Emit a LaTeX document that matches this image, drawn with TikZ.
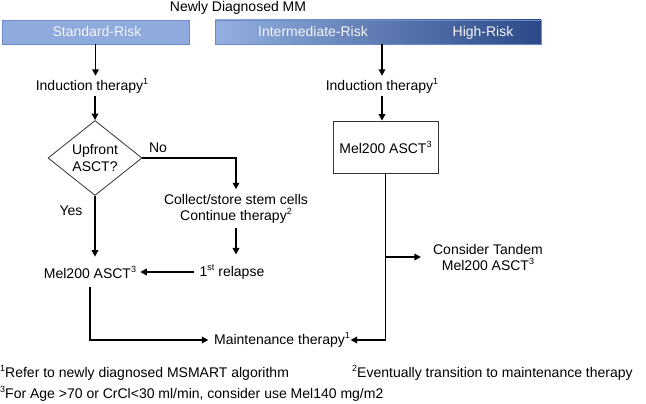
\documentclass[tikz,border=0pt]{standalone}
\usepackage{fontspec}
\setmainfont{Liberation Sans}
\usetikzlibrary{shapes.geometric,arrows.meta,calc}
\definecolor{stdfill}{HTML}{8FAADC}
\definecolor{boxline}{HTML}{6A8BC6}
\definecolor{gradL}{HTML}{94AFDF}
\definecolor{gradM}{HTML}{4E77C6}
\definecolor{gradR}{HTML}{2C4887}
\definecolor{wtext}{HTML}{F4F6FB}
\newcommand\myup[1]{\raisebox{0.42em}{\fontsize{9}{10}\selectfont #1}}
\begin{document}
\begin{tikzpicture}[x=1pt,y=-1pt,
  every node/.style={font=\fontsize{14}{16}\selectfont, inner sep=1pt},
  arr/.style={line width=1.8pt, -{Triangle[length=6.5pt,width=6.5pt]}},
  riskbox/.style={draw=boxline, line width=0.8pt, minimum height=24pt, inner sep=0pt},
  wlabel/.style={text=wtext, text height=10pt, text depth=3pt},
  plainbox/.style={draw=black!80, line width=0.8pt}
]
\useasboundingbox (0,0) rectangle (646,404);

% header
\node (title) at (238,8) {Newly Diagnosed MM};
\node[riskbox, fill=stdfill, minimum width=187pt] (std) at (95.5,32) {};
\node[wlabel] (stdt) at (97,33.5) {Standard-Risk};
\node[riskbox, left color=gradL, middle color=gradM, right color=gradR, minimum width=326pt] (ih) at (378,32) {};
\node[wlabel] (inter) at (313,33.5) {Intermediate-Risk};
\node[wlabel] (high) at (483,33.5) {High-Risk};

% left column
\node[inner ysep=2.5pt] (ind1) at (92,86) {Induction therapy\myup{1}};
\draw[arr] (std.south) -- (std.south |- ind1.north);
\node[plainbox, diamond, aspect=1.25, minimum width=94pt, minimum height=75pt, inner sep=0pt, align=center, font=\fontsize{14}{17}\selectfont] (dia) at (95,158) {Upfront\\ASCT?};
\draw[arr] (dia.north |- ind1.south) -- (dia.north);

\node[align=center, inner ysep=4.5pt] (coll) at (236,208.5) {Collect/store stem cells\\Continue therapy\myup{2}};
\draw[arr] (dia.east) -| (coll.north);
\node (no) at (158,148) {No};
\node (yes) at (71,211) {Yes};

\node[inner xsep=4pt, inner ysep=9pt] (mel1) at (90,272) {Mel200 ASCT\myup{3}};
\draw[arr] (dia.south) -- (dia.south |- mel1.north);
\node[inner xsep=6pt, inner ysep=10pt] (rel) at (232,272) {1\myup{st} relapse};
\draw[arr] (coll.south) -- (coll.south |- rel.north);
\draw[arr] (rel.west) -- (mel1.east);

\node[inner xsep=0.5pt] (maint) at (282,340) {Maintenance therapy\myup{1}};
\draw[arr, shorten >=5pt] (mel1.south) |- (maint.west);

% right column
\node[inner ysep=2.5pt] (ind2) at (382,86) {Induction therapy\myup{1}};
\draw[arr] (ind2.north |- ih.south) -- (ind2.north);
\node[plainbox, minimum width=105pt, minimum height=52pt] (box2) at (385.5,147) {Mel200 ASCT\myup{3}};
\draw[arr] (ind2.south) -- (ind2.south |- box2.north);
\draw[arr] (box2.south) |- (maint.east);
\node[align=center, inner xsep=12pt] (tand) at (488,257) {Consider Tandem\\Mel200 ASCT\myup{3}};
\coordinate (br) at (box2.south |- tand.west);
\draw[arr] (br) -- (tand.west);

% footnotes
\node[anchor=west, inner sep=0pt] (fn1) at (0,373) {\myup{1}Refer to newly diagnosed MSMART algorithm};
\node[anchor=west, inner sep=0pt] (fn2) at (352,373) {\myup{2}Eventually transition to maintenance therapy};
\node[anchor=west, inner sep=0pt] (fn3) at (0,394) {\myup{3}For Age >70 or CrCl<30 ml/min, consider use Mel140 mg/m2};
\end{tikzpicture}
\end{document}
